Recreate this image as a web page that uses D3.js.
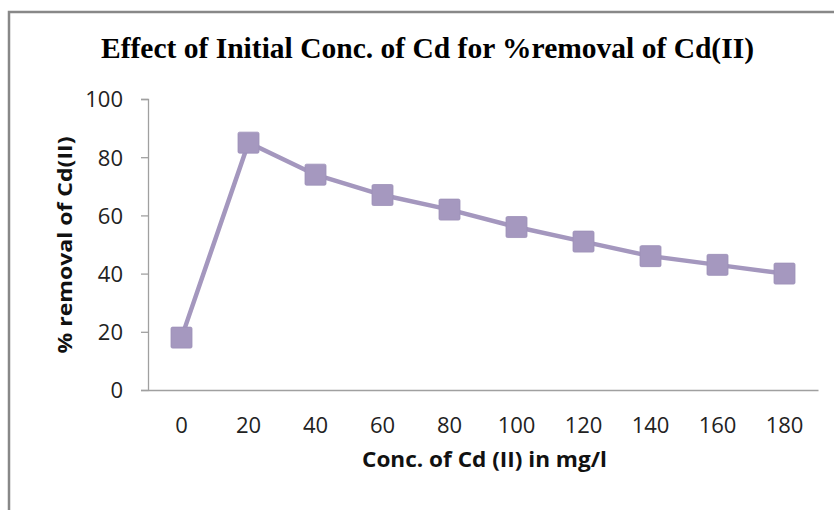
<!DOCTYPE html>
<html><head><meta charset="utf-8">
<script src="https://cdn.jsdelivr.net/npm/d3@7"></script>
<style>
html,body{margin:0;padding:0;background:#fff;}
svg{display:block;}
</style></head>
<body>
<svg id="chart" width="834" height="510"></svg>
<script>
const categories = ["0","20","40","60","80","100","120","140","160","180"];
const removal = [18, 85, 74, 67, 62, 56, 51, 46, 43, 40];
const yTicks = [0, 20, 40, 60, 80, 100];
const titleText = "Effect of Initial  Conc. of Cd for %removal of Cd(II)";
const xTitle = "Conc. of Cd (II) in mg/l";
const yTitle = "% removal of Cd(II)";

(function(){
const svg = d3.select("#chart");
const W = 834, H = 510;
svg.append("rect").attr("x",0).attr("y",0).attr("width",W).attr("height",H).attr("fill","#fff");
// outer chart border
svg.append("rect").attr("x",9).attr("y",12).attr("width",W+20).attr("height",H+20)
  .attr("fill","none").attr("stroke","#888").attr("stroke-width",2.5);

const pL = 148, pR = 818, pT = 99, pB = 390;
const x = d3.scaleBand().domain(categories).range([pL, pR]);
const y = d3.scaleLinear().domain([0, 100]).range([pB, pT]);

// title
svg.append("text").attr("x",427.5).attr("y",58).attr("text-anchor","middle")
  .attr("font-family","Liberation Serif, serif").attr("font-weight","bold")
  .attr("font-size",30).attr("fill","#000")
  .attr("textLength",653).attr("lengthAdjust","spacingAndGlyphs")
  .text(titleText);

// y axis
const yAxis = svg.append("g").attr("transform",`translate(${pL},0)`)
  .call(d3.axisLeft(y).tickValues(yTicks).tickSize(7).tickPadding(18).tickFormat(d3.format("d")));
yAxis.select(".domain").attr("stroke","#A0A0A0").attr("stroke-width",1.3);
yAxis.selectAll(".tick line").attr("stroke","#A0A0A0").attr("stroke-width",1.3);
yAxis.selectAll("text").attr("font-family","Open Sans, sans-serif").attr("font-size",22)
  .attr("fill","#222").attr("dy","0.36em");

// x axis
const xAxis = svg.append("g").attr("transform",`translate(0,${pB})`)
  .call(d3.axisBottom(x).tickSize(0).tickPadding(27));
xAxis.select(".domain").attr("stroke","#A0A0A0").attr("stroke-width",1.5);
xAxis.selectAll("text").attr("font-family","Open Sans, sans-serif").attr("font-size",22)
  .attr("fill","#222");

// axis titles
svg.append("text").attr("x",484.5).attr("y",467).attr("text-anchor","middle")
  .attr("font-family","Open Sans, sans-serif").attr("font-weight","bold")
  .attr("font-size",22).attr("fill","#111")
  .attr("textLength",245).attr("lengthAdjust","spacingAndGlyphs")
  .text(xTitle);
svg.append("text").attr("transform","translate(72,245) rotate(-90)").attr("text-anchor","middle")
  .attr("font-family","Open Sans, sans-serif").attr("font-weight","bold")
  .attr("font-size",20).attr("fill","#111")
  .attr("textLength",217).attr("lengthAdjust","spacingAndGlyphs")
  .text(yTitle);

// line
const cx = d => x(d) + x.bandwidth()/2;
const line = d3.line().x((d,i)=>cx(categories[i])).y(d=>y(d));
svg.append("path").datum(removal).attr("d",line).attr("fill","none")
  .attr("stroke","#A497BE").attr("stroke-width",4.5).attr("stroke-linejoin","round");

// markers
const ms = 21;
svg.selectAll("rect.marker").data(removal).enter().append("rect").attr("class","marker")
  .attr("x",(d,i)=>cx(categories[i]) - ms/2).attr("y",d=>y(d)-ms/2)
  .attr("width",ms).attr("height",ms).attr("rx",1.5)
  .attr("fill","#A598BF").attr("stroke","#9C8FB8").attr("stroke-width",0.8);
})();
</script>
</body></html>
